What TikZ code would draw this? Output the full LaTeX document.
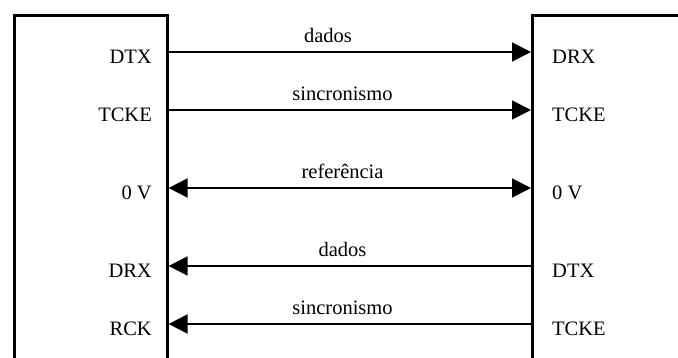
\documentclass[tikz,border=0pt]{standalone}
\usepackage{fontspec}
\setmainfont{Liberation Serif}
\usetikzlibrary{arrows.meta}
\begin{document}
\begin{tikzpicture}[x=1pt,y=-1pt,
  box/.style={draw,line width=2.6pt,rectangle,inner sep=0pt},
  sig/.style={line width=1.8pt},
  tip/.style={-{Triangle[length=19pt,width=19pt]}},
  pin/.style={font=\fontsize{20.5}{24}\selectfont,inner sep=0pt},
  lab/.style={font=\fontsize{20.5}{24}\selectfont,inner sep=0pt}]
\useasboundingbox (0,0) rectangle (678,358);
\clip (0,0) rectangle (678,358);
\fill[white] (0,0) rectangle (678,358);
% boxes (extend past the picture edge)
\node[box,minimum width=153pt,minimum height=380pt,anchor=north west] (L) at (13,14) {};
\node[box,minimum width=200pt,minimum height=380pt,anchor=north west] (R) at (531,14) {};
% attachment points
\foreach \n/\y in {a/52,b/110,c/188,d/266,e/324}{
  \coordinate (L\n) at (L.east |- 0,\y);
  \coordinate (R\n) at (R.west |- 0,\y);
}
% left pin labels
\node[pin,anchor=east] (l1) at (152,57) {DTX};
\node[pin,anchor=east] (l2) at (152,115) {TCKE};
\node[pin,anchor=east] (l3) at (152,193) {0 V};
\node[pin,anchor=east] (l4) at (152,271) {DRX};
\node[pin,anchor=east] (l5) at (152,329) {RCK};
% right pin labels
\node[pin,anchor=west] (r1) at (552,57) {DRX};
\node[pin,anchor=west] (r2) at (552,115) {TCKE};
\node[pin,anchor=west] (r3) at (552,193) {0 V};
\node[pin,anchor=west] (r4) at (552,271) {DTX};
\node[pin,anchor=west] (r5) at (552,329) {TCKE};
% connectors
\draw[sig,tip] (La) -- (Ra) node[lab,pos=0.44,above=8pt] (m1) {dados};
\draw[sig,tip] (Lb) -- (Rb) node[lab,pos=0.48,above=8pt] (m2) {sincronismo};
\draw[sig,{Triangle[length=19pt,width=19pt]}-{Triangle[length=19pt,width=19pt]}] (Lc) -- (Rc) node[lab,pos=0.48,above=8pt] (m3) {referência};
\draw[sig,tip] (Rd) -- (Ld) node[lab,pos=0.52,above=8pt] (m4) {dados};
\draw[sig,tip] (Re) -- (Le) node[lab,pos=0.52,above=8pt] (m5) {sincronismo};
\end{tikzpicture}
\end{document}
